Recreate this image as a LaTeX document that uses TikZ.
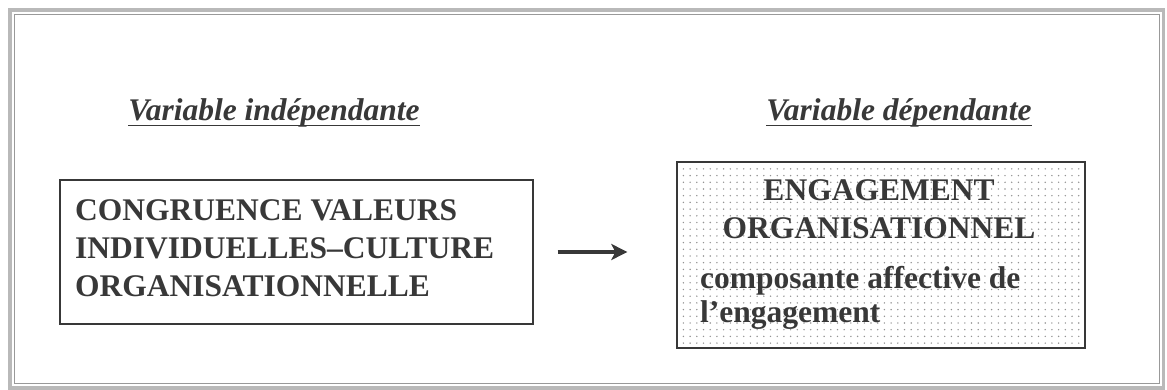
\documentclass[tikz,border=0pt]{standalone}
\usepackage{fontspec}
\setmainfont{Liberation Serif}
\usetikzlibrary{arrows.meta,patterns.meta}
\definecolor{encre}{gray}{0.22}
\begin{document}
\begin{tikzpicture}[x=1pt,y=-1pt,
  boite/.style={draw=encre,line width=1.3pt,inner sep=0pt},
  texte/.style={text=encre,inner sep=0pt,font=\bfseries\fontsize{31.5}{38}\selectfont},
  titre/.style={text=encre,inner sep=0pt,anchor=base,font=\bfseries\itshape\fontsize{31.5}{38}\selectfont},
  fleche/.style={draw=encre,line width=4pt,-{Stealth[length=16pt,width=16pt,inset=4pt]}}]
\useasboundingbox (0,0) rectangle (1167,390);
%
% Cadre
\draw [gray!55, line width=3.5pt] (10,10) rectangle (1163.5,388);
\draw [gray!80, line width=0.8pt] (14.5,14.5) rectangle (1159,383.5);
%
% Variable indépendante
\node [titre] (indlab) at (274,121) {Variable indépendante};
\draw [encre, line width=1.8pt] ([yshift=-4.5pt]indlab.base west) -- ([yshift=-4.5pt]indlab.base east);
\node [boite, minimum width=473pt, minimum height=144pt] (ind) at (296.5,252) {};
\node [texte, anchor=north west, align=left] (indtxt) at (75,199)
      {CONGRUENCE VALEURS\\INDIVIDUELLES–CULTURE\\ORGANISATIONNELLE};
%
% Variable dépendante
\node [titre] (deplab) at (899,121) {Variable dépendante};
\draw [encre, line width=1.8pt] ([yshift=-4.5pt]deplab.base west) -- ([yshift=-4.5pt]deplab.base east);
\node [boite, minimum width=408pt, minimum height=186pt,
       pattern={Dots[distance=6.7pt,radius=0.8pt]}, pattern color=gray!85] (dep) at (881,255) {};
\node [texte, anchor=north, align=center] (deptitre) at (879,179)
      {ENGAGEMENT\\ORGANISATIONNEL};
\node [texte, anchor=north west, align=left, font=\bfseries\fontsize{31.5}{34}\selectfont] (depsous) at (700,266.5)
      {composante affective de\\l’engagement};
%
% Lien
\draw [fleche, shorten <=24pt, shorten >=49pt] (ind.east) -- (ind.east -| dep.west);
%
\end{tikzpicture}
\end{document}
